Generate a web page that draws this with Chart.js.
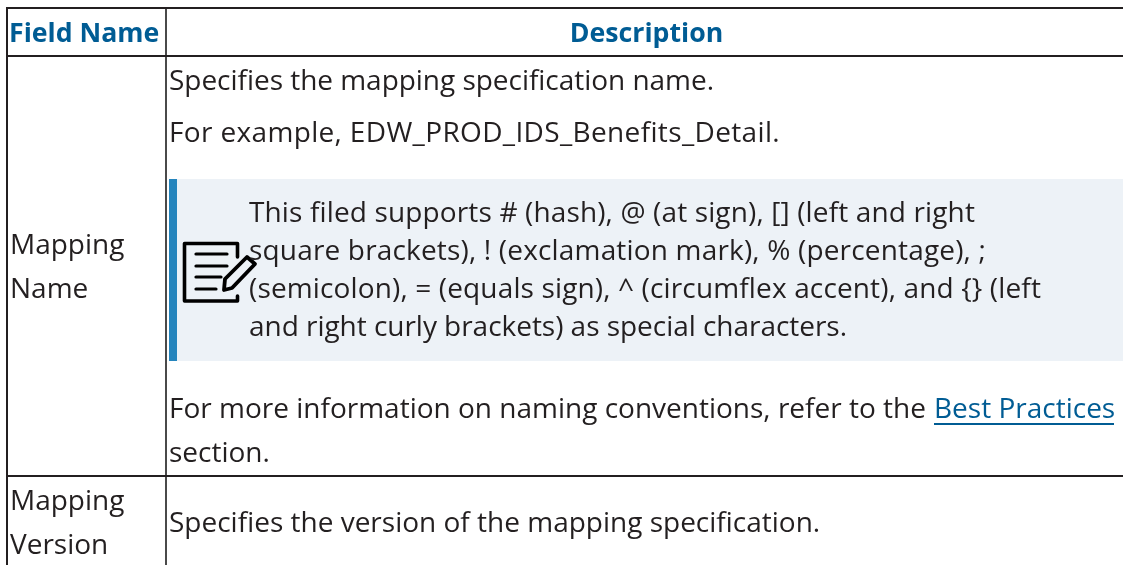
<!DOCTYPE html>
<html>
<head>
<meta charset="utf-8">
<title>Mapping fields</title>
<script src="https://cdn.jsdelivr.net/npm/chart.js@4"></script>
<style>
  html, body { margin: 0; padding: 0; background: #fff; overflow: hidden; }
  canvas { display: block; }
</style>
</head>
<body>
<canvas id="tableChart" width="1123" height="565"></canvas>
<script>
const headers = ['Field Name', 'Description'];
const nameRow1 = ['Mapping', 'Name'];
const nameRow2 = ['Mapping', 'Version'];
const descRow1 = ['Specifies the mapping specification name.', 'For example, EDW_PROD_IDS_Benefits_Detail.'];
const noteLines = [
  'This filed supports # (hash), @ (at sign), [] (left and right',
  'square brackets), ! (exclamation mark), % (percentage), ;',
  '(semicolon), = (equals sign), ^ (circumflex accent), and {} (left',
  'and right curly brackets) as special characters.'
];
const moreInfo = ['For more information on naming conventions, refer to the ', 'Best Practices', 'section.'];
const descRow2 = 'Specifies the version of the mapping specification.';

// table rules, in axis units (the axes run 1:1 with the page)
const columnEdges = [7, 166];
const rowEdges = [8, 56, 476];

const INK = '#231f20';
const BLUE = '#005c94';
const FONT = '"Open Sans"';

function drawIcon(ctx) {
  ctx.save();
  ctx.filter = 'blur(0.5px)';
  ctx.strokeStyle = '#000';
  ctx.lineCap = 'round';
  ctx.lineJoin = 'round';
  ctx.lineWidth = 3.6;
  ctx.beginPath();
  ctx.moveTo(237.5, 257);
  ctx.lineTo(237.5, 243.5);
  ctx.lineTo(184.5, 243.5);
  ctx.lineTo(184.5, 301);
  ctx.lineTo(237.5, 301);
  ctx.lineTo(237.5, 296);
  ctx.stroke();
  ctx.lineWidth = 3.2;
  [[254, 227], [266, 227], [277, 221], [289, 216]].forEach(([y, x2]) => {
    ctx.beginPath();
    ctx.moveTo(196, y);
    ctx.lineTo(x2, y);
    ctx.stroke();
  });
  // pencil
  ctx.lineWidth = 3.8;
  ctx.beginPath();
  ctx.moveTo(225, 279);
  ctx.lineTo(247, 257);
  ctx.lineTo(255, 264);
  ctx.lineTo(232, 288);
  ctx.lineTo(224, 290);
  ctx.closePath();
  ctx.stroke();
  ctx.restore();
}

const tablePlugin = {
  id: 'tableText',
  beforeDatasetsDraw(chart) {
    const { ctx, scales: { x, y } } = chart;
    const put = (text, px, py, opts = {}) => {
      ctx.font = (opts.weight || 400) + ' ' + (opts.size || 28) + 'px ' + FONT;
      ctx.fillStyle = opts.color || INK;
      ctx.textAlign = opts.align || 'left';
      ctx.textBaseline = 'alphabetic';
      ctx.letterSpacing = '0px';
      // the reference text runs a little wider or narrower line by line
      if (opts.fit) {
        ctx.letterSpacing = (opts.fit - ctx.measureText(text).width) / text.length + 'px';
      }
      ctx.fillText(text, x.getPixelForValue(px), y.getPixelForValue(py));
    };

    ctx.save();
    // note box
    ctx.fillStyle = '#edf2f7';
    ctx.fillRect(177, 179, 946, 182);
    ctx.fillStyle = '#2585bd';
    ctx.fillRect(169, 179, 8, 182);
    drawIcon(ctx);

    put(headers[0], 9, 42, { color: BLUE, weight: 700, size: 26.7 });
    put(headers[1], 646.5, 42, { color: BLUE, weight: 700, size: 26.7, align: 'center' });

    put(nameRow1[0], 10, 254);
    put(nameRow1[1], 10, 298);
    put(nameRow2[0], 10, 510);
    put(nameRow2[1], 10, 554);

    put(descRow1[0], 169, 90, { fit: 545 });
    put(descRow1[1], 169, 142, { fit: 611 });
    [726, 737, 792, 598].forEach((fit, i) => {
      put(noteLines[i], 249, [222, 260, 298, 336][i], { fit });
    });
    put(moreInfo[0], 169, 418);
    put(moreInfo[1], 934, 418, { color: BLUE });
    ctx.fillStyle = BLUE;
    ctx.fillRect(934, 423, 180, 2);
    put(moreInfo[2], 169, 462);
    put(descRow2, 169, 532);
    ctx.restore();
  }
};

new Chart(document.getElementById('tableChart'), {
  type: 'scatter',
  data: { datasets: [{ data: [] }] },
  plugins: [tablePlugin],
  options: {
    responsive: false,
    animation: false,
    events: [],
    layout: { padding: { left: 6, top: 7 } },
    plugins: { legend: { display: false }, tooltip: { enabled: false } },
    scales: {
      x: {
        type: 'linear',
        min: 6,
        max: 1123,
        border: { display: false },
        afterBuildTicks: axis => { axis.ticks = columnEdges.map(value => ({ value })); },
        ticks: { display: false },
        grid: { color: ctx => ctx.index === 1 ? '#4a4a4a' : INK, lineWidth: 2, drawTicks: false }
      },
      y: {
        type: 'linear',
        reverse: true,
        min: 7,
        max: 565,
        border: { display: false },
        afterBuildTicks: axis => { axis.ticks = rowEdges.map(value => ({ value })); },
        ticks: { display: false },
        grid: { color: INK, lineWidth: 2, drawTicks: false }
      }
    }
  }
});
</script>
</body>
</html>
